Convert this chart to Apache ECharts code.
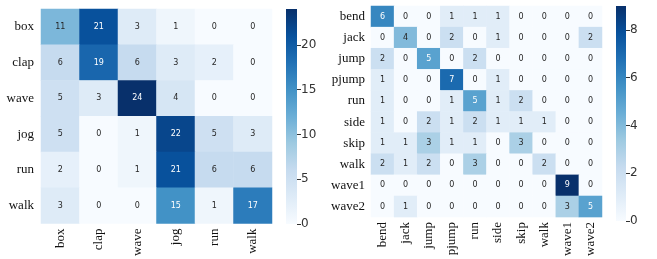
<!DOCTYPE html>
<html>
<meta charset="utf-8">
<head>
	<title>confusion matrices</title>
	<script src="https://cdn.jsdelivr.net/npm/echarts@6/dist/echarts.min.js"></script>
	<style type="text/css">
		body{margin:0;background:#fff;}
		#main{width:657px;height:259px;}
	</style>
</head>
<body>
<div id="main"></div>
<script type="text/javascript">
// 左边 KTH
var kthClasses = ['box', 'clap', 'wave', 'jog', 'run', 'walk'];
var kthMatrix = [
    [11, 21, 3, 1, 0, 0],
    [6, 19, 6, 3, 2, 0],
    [5, 3, 24, 4, 0, 0],
    [5, 0, 1, 22, 5, 3],
    [2, 0, 1, 21, 6, 6],
    [3, 0, 0, 15, 1, 17]
];
var kthTicks = 5;
// 右边 Weizmann
var weizClasses = ['bend', 'jack', 'jump', 'pjump', 'run', 'side', 'skip', 'walk', 'wave1', 'wave2'];
var weizMatrix = [
    [6, 0, 0, 1, 1, 1, 0, 0, 0, 0],
    [0, 4, 0, 2, 0, 1, 0, 0, 0, 2],
    [2, 0, 5, 0, 2, 0, 0, 0, 0, 0],
    [1, 0, 0, 7, 0, 1, 0, 0, 0, 0],
    [1, 0, 0, 1, 5, 1, 2, 0, 0, 0],
    [1, 0, 2, 1, 2, 1, 1, 1, 0, 0],
    [1, 1, 3, 1, 1, 0, 3, 0, 0, 0],
    [2, 1, 2, 0, 3, 0, 0, 2, 0, 0],
    [0, 0, 0, 0, 0, 0, 0, 0, 9, 0],
    [0, 1, 0, 0, 0, 0, 0, 0, 3, 5]
];
var weizTicks = 2;

// seaborn Blues
var blues = ['#f7fbff', '#deebf7', '#c6dbef', '#9ecae1', '#6baed6', '#4292c6', '#2171b5', '#08519c', '#08306b'];

function maxOf(m) {
    var v = 0;
    m.forEach(function (r) { r.forEach(function (x) { if (x > v) v = x; }); });
    return v;
}
// 单元格 -> [x, y, v]，深色格子用白字
function cells(m) {
    var mx = maxOf(m), out = [];
    m.forEach(function (row, i) {
        row.forEach(function (v, j) {
            out.push({value: [j, i, v], label: {color: v / mx > 0.48 ? '#fff' : '#262626'}});
        });
    });
    return out;
}
function gradient() {
    var stops = blues.map(function (c, i) { return {offset: 1 - i / (blues.length - 1), color: c}; });
    return {type: 'linear', x: 0, y: 0, x2: 0, y2: 1, colorStops: stops.reverse()};
}

var kthMax = maxOf(kthMatrix);
var weizMax = maxOf(weizMatrix);

var catLabel = {fontFamily: 'Liberation Serif', fontSize: 13, color: '#111'};

var myChart = echarts.init(document.getElementById('main'));
var option = {
    animation: false,
    grid: [
        {left: 41, top: 9, width: 231, height: 215},
        {left: 286, top: 9, width: 11, height: 215},
        {left: 371, top: 6, width: 231, height: 215},
        {left: 616, top: 6, width: 10, height: 215}
    ],
    xAxis: [
        {gridIndex: 0, type: 'category', data: kthClasses, axisLine: {show: false}, axisTick: {show: false},
         axisLabel: Object.assign({rotate: 90, margin: 5}, catLabel)},
        {gridIndex: 1, type: 'category', data: [''], show: false},
        {gridIndex: 2, type: 'category', data: weizClasses, axisLine: {show: false}, axisTick: {show: false},
         axisLabel: Object.assign({rotate: 90, margin: 5}, catLabel)},
        {gridIndex: 3, type: 'category', data: [''], show: false}
    ],
    yAxis: [
        {gridIndex: 0, type: 'category', data: kthClasses, inverse: true, axisLine: {show: false}, axisTick: {show: false},
         axisLabel: Object.assign({margin: 7}, catLabel)},
        {gridIndex: 1, type: 'value', min: 0, max: kthMax, interval: kthTicks, position: 'right',
         axisLine: {show: false}, splitLine: {show: false},
         axisTick: {show: true, length: 4, lineStyle: {color: '#333'}},
         axisLabel: {fontFamily: 'DejaVu Sans', fontSize: 12, color: '#333', margin: 4,
                     showMaxLabel: false}},
        {gridIndex: 2, type: 'category', data: weizClasses, inverse: true, axisLine: {show: false}, axisTick: {show: false},
         axisLabel: Object.assign({margin: 6}, catLabel)},
        {gridIndex: 3, type: 'value', min: 0, max: weizMax, interval: weizTicks, position: 'right',
         axisLine: {show: false}, splitLine: {show: false},
         axisTick: {show: true, length: 4, lineStyle: {color: '#333'}},
         axisLabel: {fontFamily: 'DejaVu Sans', fontSize: 12, color: '#333', margin: 4,
                     showMaxLabel: false}}
    ],
    visualMap: [
        {type: 'continuous', show: false, seriesIndex: 0, min: 0, max: kthMax, inRange: {color: blues}},
        {type: 'continuous', show: false, seriesIndex: 2, min: 0, max: weizMax, inRange: {color: blues}}
    ],
    series: [
        {type: 'heatmap', xAxisIndex: 0, yAxisIndex: 0, data: cells(kthMatrix),
         label: {show: true, fontFamily: 'DejaVu Sans', fontSize: 8}},
        // 色条
        {type: 'bar', xAxisIndex: 1, yAxisIndex: 1, data: [kthMax], barWidth: '100%',
         itemStyle: {color: gradient()}},
        {type: 'heatmap', xAxisIndex: 2, yAxisIndex: 2, data: cells(weizMatrix),
         label: {show: true, fontFamily: 'DejaVu Sans', fontSize: 8}},
        {type: 'bar', xAxisIndex: 3, yAxisIndex: 3, data: [weizMax], barWidth: '100%',
         itemStyle: {color: gradient()}}
    ]
};
myChart.setOption(option);
</script>
</body>
</html>
